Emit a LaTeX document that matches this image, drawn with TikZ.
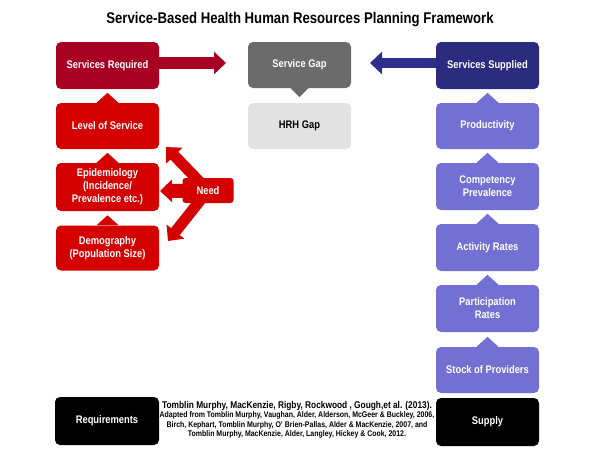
\documentclass[tikz,border=0pt]{standalone}
\usepackage{fontspec}
\setmainfont{Liberation Sans}[FakeStretch=0.85]
\usetikzlibrary{arrows.meta,backgrounds}

\definecolor{reqred}{HTML}{A80022}
\definecolor{needred}{HTML}{D40000}
\definecolor{gapgray}{HTML}{6B6B6B}
\definecolor{hrhgray}{HTML}{E2E2E2}
\definecolor{supnavy}{HTML}{2B2B80}
\definecolor{arrownavy}{HTML}{2E2F8C}
\definecolor{suppurple}{HTML}{7370D4}

\tikzset{
  framebox/.style={minimum width=103pt, minimum height=46pt, rounded corners=5pt, inner sep=2pt,
    text=white, align=center, font=\bfseries\fontsize{11}{13}\selectfont},
  blockarrow/.style={line width=#1, -{Triangle[width=22pt, length=12pt]}},
}

\begin{document}
\begin{tikzpicture}[x=1pt, y=-1pt]
\useasboundingbox (0, 0) rectangle (600, 450);

\node[font=\bfseries\fontsize{15.5}{18}\selectfont] (title) at (300, 20) {Service-Based Health Human Resources Planning Framework};

\node[framebox, fill=reqred, minimum height=47pt] (required box) at (107.5, 65.5) {Services Required};
\node[framebox, fill=needred] (level box) at (107.5, 126) {Level of Service};
\node[framebox, fill=needred, minimum height=48pt] (epi box) at (107.5, 187) {Epidemiology\\(Incidence/\\Prevalence etc.)};
\node[framebox, fill=needred, minimum height=45pt] (demo box) at (107.5, 248) {Demography\\(Population Size)};

\node[framebox, fill=gapgray] (gap box) at (299.5, 65) {Service Gap};
\node[framebox, fill=hrhgray, text=black] (hrh box) at (299.5, 126) {HRH Gap};

\node[framebox, fill=supnavy, minimum height=47pt] (supplied box) at (487.5, 65.5) {Services Supplied};
\node[framebox, fill=suppurple] (prod box) at (487.5, 126) {Productivity};
\node[framebox, fill=suppurple, minimum height=47pt] (comp box) at (487.5, 186.5) {Competency\\Prevalence};
\node[framebox, fill=suppurple, minimum height=47pt] (act box) at (487.5, 247.5) {Activity Rates};
\node[framebox, fill=suppurple, minimum height=47pt] (part box) at (487.5, 308.5) {Participation\\Rates};
\node[framebox, fill=suppurple] (stock box) at (487.5, 370) {Stock of Providers};

\node[framebox, fill=black, minimum width=104pt, minimum height=48pt] (requirements box) at (107, 421) {Requirements};
\node[framebox, fill=black, minimum height=48pt] (supply box) at (487.5, 422) {Supply};

\node[framebox, fill=needred, minimum width=51pt, minimum height=25pt, rounded corners=3pt] (need box) at (208, 190.5) {Need};

\foreach \b/\c in {level box/needred, epi box/needred, demo box/needred,
                   prod box/suppurple, comp box/suppurple, act box/suppurple,
                   part box/suppurple, stock box/suppurple}
  \fill[\c] ([xshift=-11pt]\b.north) -- ([yshift=10pt]\b.north) -- ([xshift=11pt]\b.north) -- cycle;
\fill[gapgray] ([xshift=-9pt]gap box.south) -- ([yshift=-9pt]gap box.south) -- ([xshift=9pt]gap box.south) -- cycle;

\coordinate (required tip) at (226, 63);
\coordinate (supplied tip) at (370, 63);
\coordinate (need up tip) at (166, 147);
\coordinate (need left tip) at (160, 191);
\coordinate (need down tip) at (168, 241);

\draw[blockarrow=12pt, reqred] (required box.east |- required tip) -- (required tip);
\draw[blockarrow=10pt, arrownavy] (supplied box.west |- supplied tip) -- (supplied tip);

\begin{scope}[on background layer]
\draw[blockarrow=11pt, needred] (need box.center) -- (need up tip);
\draw[blockarrow=14pt, needred] (need box.center) -- (need left tip);
\draw[blockarrow=11pt, needred] (need box.center) -- (need down tip);
\end{scope}

\node[align=center, font=\bfseries\fontsize{8.2}{9.4}\selectfont] (citation) at (297, 420)
  {{\fontsize{9.8}{10}\selectfont Tomblin Murphy, MacKenzie, Rigby, Rockwood , Gough,et al. (2013).}\\
   Adapted from Tomblin Murphy, Vaughan, Alder, Alderson, McGeer \& Buckley, 2006,\\
   Birch, Kephart, Tomblin Murphy, O’ Brien-Pallas, Alder \& MacKenzie, 2007, and\\
   Tomblin Murphy, MacKenzie, Alder, Langley, Hickey \& Cook, 2012.};
\end{tikzpicture}
\end{document}
